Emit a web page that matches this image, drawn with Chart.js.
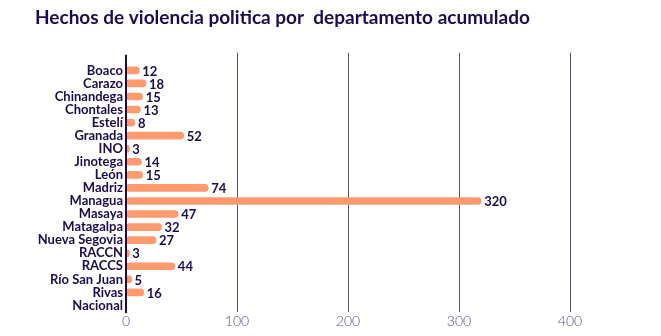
<!DOCTYPE html>
<html>
<head>
<meta charset="utf-8">
<script src="https://cdn.jsdelivr.net/npm/chart.js@4/dist/chart.umd.min.js"></script>
<style>
  html, body { margin: 0; padding: 0; background: #fff; }
  #wrap { width: 661px; height: 336px; }
</style>
</head>
<body>
<div id="wrap"><canvas id="chart"></canvas></div>
<script>
const departamentos = [
  "Boaco", "Carazo", "Chinandega", "Chontales", "Estelí", "Granada", "INO",
  "Jinotega", "León", "Madriz", "Managua", "Masaya", "Matagalpa",
  "Nueva Segovia", "RACCN", "RACCS", "Río San Juan", "Rivas", "Nacional"
];
const hechos = [12, 18, 15, 13, 8, 52, 3, 14, 15, 74, 320, 47, 32, 27, 3, 44, 5, 16, null];
const xTicks = [0, 100, 200, 300, 400];

const navy = "#1c0b4f";
const gridPurple = "#5d4b8c";
const salmon = "#fe9a6e";
const family = "Lato, 'Noto Sans', sans-serif";

// grid lines run a bit above the plot, axis line on top of the bars
const axisLines = {
  id: "axisLines",
  beforeDatasetsDraw(chart) {
    const { ctx, chartArea, scales } = chart;
    ctx.save();
    ctx.strokeStyle = gridPurple;
    ctx.lineWidth = 1;
    xTicks.slice(1).forEach(v => {
      const x = Math.round(scales.x.getPixelForValue(v)) + 0.5;
      ctx.beginPath();
      ctx.moveTo(x, chartArea.top - 11);
      ctx.lineTo(x, chartArea.bottom);
      ctx.stroke();
    });
    ctx.restore();
  },
  afterDatasetsDraw(chart) {
    const { ctx, chartArea, scales } = chart;
    const meta = chart.getDatasetMeta(0);
    ctx.save();
    ctx.strokeStyle = navy;
    ctx.lineWidth = 2;
    const x0 = scales.x.getPixelForValue(0);
    ctx.beginPath();
    ctx.moveTo(x0, chartArea.top - 9);
    ctx.lineTo(x0, chartArea.bottom + 1);
    ctx.stroke();

    ctx.fillStyle = navy;
    ctx.font = "bold 13px " + family;
    ctx.textBaseline = "middle";
    ctx.textAlign = "left";
    meta.data.forEach((bar, i) => {
      const v = hechos[i];
      if (v === null) return;
      ctx.fillText(String(v), bar.x + 3, bar.y + 1);
    });
    ctx.restore();
  }
};

new Chart(document.getElementById("chart"), {
  type: "bar",
  data: {
    labels: departamentos,
    datasets: [{
      data: hechos,
      backgroundColor: salmon,
      barThickness: 7,
      borderRadius: 3.5,
      borderSkipped: false
    }]
  },
  options: {
    indexAxis: "y",
    responsive: true,
    maintainAspectRatio: false,
    animation: false,
    layout: { padding: { left: 35, right: 91, top: 0, bottom: 0 } },
    plugins: {
      legend: { display: false },
      tooltip: { enabled: false },
      title: {
        display: true,
        text: "Hechos de violencia politica por  departamento acumulado",
        align: "start",
        color: navy,
        font: { family: family, size: 19, weight: "bold" },
        padding: { top: 6, bottom: 35 }
      }
    },
    scales: {
      x: {
        type: "linear",
        min: 0,
        max: 400,
        afterBuildTicks(scale) { scale.ticks = xTicks.map(v => ({ value: v })); },
        afterFit(scale) { scale.height = 24; },
        grid: { display: false, drawTicks: false },
        border: { display: false },
        ticks: {
          color: gridPurple,
          padding: 1,
          font: { family: family, size: 14, weight: "300" }
        }
      },
      y: {
        afterFit(scale) { scale.width = 91; },
        grid: { display: false, drawTicks: false },
        border: { display: false },
        ticks: {
          color: navy,
          padding: 3,
          autoSkip: false,
          font: { family: family, size: 13, weight: "bold" }
        }
      }
    }
  },
  plugins: [axisLines]
});
</script>
</body>
</html>
